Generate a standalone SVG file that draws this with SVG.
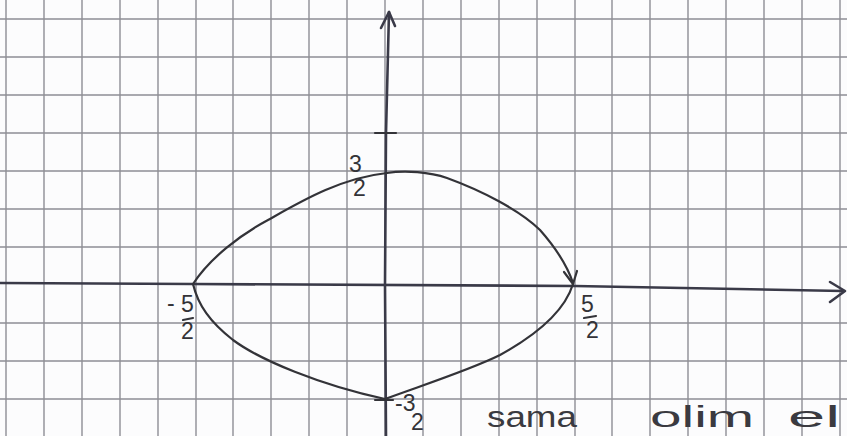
<svg xmlns="http://www.w3.org/2000/svg" width="847" height="436" viewBox="0 0 847 436">
<style>
.grid line{stroke:#8e8e94;stroke-width:1.4}
.ink{fill:none;stroke:#333338;stroke-width:2.2;stroke-linecap:round;stroke-linejoin:round}
.axis{fill:none;stroke:#3a3a48;stroke-width:2.6;stroke-linecap:round;stroke-linejoin:round}
.lbl{font-family:"Liberation Sans","DejaVu Sans",sans-serif;fill:#333338;font-size:23px}
.hand{font-family:"Liberation Sans","DejaVu Sans",sans-serif;fill:#3a3a40;font-size:29px}
</style>
<rect width="847" height="436" fill="#fcfcfd"/>
<g id="grid" class="grid">
<line x1="6" y1="0" x2="6" y2="436"/><line x1="44" y1="0" x2="44" y2="436"/><line x1="82" y1="0" x2="82" y2="436"/><line x1="120" y1="0" x2="120" y2="436"/><line x1="158" y1="0" x2="158" y2="436"/><line x1="196" y1="0" x2="196" y2="436"/><line x1="233" y1="0" x2="233" y2="436"/><line x1="271" y1="0" x2="271" y2="436"/><line x1="309" y1="0" x2="309" y2="436"/><line x1="347" y1="0" x2="347" y2="436"/><line x1="385" y1="0" x2="385" y2="436"/><line x1="423" y1="0" x2="423" y2="436"/><line x1="461" y1="0" x2="461" y2="436"/><line x1="499" y1="0" x2="499" y2="436"/><line x1="537" y1="0" x2="537" y2="436"/><line x1="575" y1="0" x2="575" y2="436"/><line x1="612" y1="0" x2="612" y2="436"/><line x1="650" y1="0" x2="650" y2="436"/><line x1="688" y1="0" x2="688" y2="436"/><line x1="726" y1="0" x2="726" y2="436"/><line x1="764" y1="0" x2="764" y2="436"/><line x1="802" y1="0" x2="802" y2="436"/><line x1="840" y1="0" x2="840" y2="436"/>
<line x1="0" y1="19" x2="847" y2="19"/><line x1="0" y1="57" x2="847" y2="57"/><line x1="0" y1="95" x2="847" y2="95"/><line x1="0" y1="133" x2="847" y2="133"/><line x1="0" y1="171" x2="847" y2="171"/><line x1="0" y1="209" x2="847" y2="209"/><line x1="0" y1="247" x2="847" y2="247"/><line x1="0" y1="323" x2="847" y2="323"/><line x1="0" y1="361" x2="847" y2="361"/><line x1="0" y1="399" x2="847" y2="399"/>
</g>
<g id="axes">
<path class="axis" d="M0,283 L193,284 L575,286 L843,291"/>
<path class="axis" d="M830,282 L845,291 L830,302"/>
<path class="axis" d="M389,12 L386,133 L385,285 L386,436"/>
<path class="axis" d="M381,28 L389,12 L395,26"/>
<path class="ink" d="M375,133 L396,133"/>
<path class="ink" d="M375,400 L393,400"/>
</g>
<g id="curve">
<path class="ink" d="M193,284 C210,258 240,235 268,220 C300,202 340,178 387,173"/>
<path class="ink" d="M387,173 C405,170 430,172 447,178 C480,190 520,210 540,230 C555,247 567,265 573,283"/>
<path class="ink" d="M564,272 L573,284 L577,271"/>
<path class="ink" d="M193,284 C198,305 210,322 233,340 C260,360 320,385 385,399"/>
<path class="ink" d="M385,399 C420,386 470,370 500,355 C540,333 565,310 573,284"/>
</g>
<g id="labels">
<text class="lbl" x="349" y="172" font-size="25">3</text>
<text class="lbl" x="353" y="196">2</text>
<text class="lbl" x="167" y="311" font-size="18">-</text>
<text class="lbl" x="181" y="312">5</text>
<path class="ink" d="M183,320 L193,318" stroke-width="1.6"/>
<text class="lbl" x="181" y="339">2</text>
<text class="lbl" x="581" y="312">5</text>
<path class="ink" d="M584,318 L596,316" stroke-width="1.6"/>
<text class="lbl" x="586" y="338">2</text>
<text class="lbl" x="395" y="411" font-size="15">-3</text>
<text class="lbl" x="411" y="430" font-size="11">2</text>
</g>
<g id="note">
<text class="hand" x="487" y="427" textLength="90" lengthAdjust="spacingAndGlyphs">sama</text>
<text class="hand" x="650" y="427" textLength="104" lengthAdjust="spacingAndGlyphs">olim</text>
<text class="hand" x="788" y="427" textLength="52" lengthAdjust="spacingAndGlyphs">el</text>
</g>
</svg>
